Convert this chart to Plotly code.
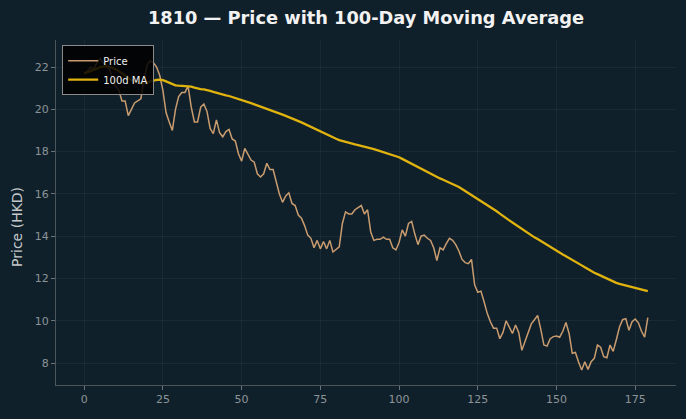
import plotly.graph_objects as go
import pandas as pd

days = list(range(180))
price = [
    21.7, 21.8, 22.0, 21.9, 22.2, 22.4, 22.2, 22.1, 21.9, 21.5,
    21.1, 20.9, 20.4, 20.4, 19.7, 20.0, 20.3, 20.4, 20.5, 21.4,
    22.1, 22.3, 22.2, 22.0, 21.6, 20.9, 19.85, 19.4, 19.0, 20.0,
    20.6, 20.8, 20.8, 21.1, 20.1, 19.4, 19.4, 20.1, 20.25, 19.9,
    19.1, 18.85, 19.5, 18.9, 18.7, 18.95, 19.05, 18.6, 18.5, 17.9,
    17.55, 18.15, 17.9, 17.6, 17.5, 16.95, 16.8, 16.95, 17.45, 17.15,
    17.15, 16.5, 16.0, 15.6, 15.9, 16.05, 15.55, 15.45, 15.0, 14.85,
    14.5, 14.05, 13.9, 13.45, 13.8, 13.4, 13.75, 13.4, 13.8, 13.25,
    13.4, 13.5, 14.6, 15.15, 15.05, 15.05, 15.25, 15.35, 15.45, 15.05,
    15.25, 14.2, 13.8, 13.85, 13.85, 13.95, 13.85, 13.85, 13.45, 13.35,
    13.7, 14.3, 14.0, 14.6, 14.7, 14.1, 13.6, 14.0, 14.05, 13.9,
    13.8, 13.45, 12.85, 13.45, 13.35, 13.65, 13.9, 13.8, 13.6, 13.3,
    12.9, 12.75, 12.7, 12.9, 11.7, 11.35, 11.4, 10.9, 10.35, 9.95,
    9.65, 9.65, 9.15, 9.45, 10.0, 9.7, 9.4, 9.8, 9.45, 8.6,
    9.0, 9.5, 9.85, 10.05, 10.25, 9.6, 8.85, 8.8, 9.15, 9.25,
    9.28, 9.22, 9.5, 9.92, 9.4, 8.46, 8.5, 8.05, 7.67, 8.06,
    7.7, 8.06, 8.22, 8.85, 8.75, 8.3, 8.25, 8.85, 8.55, 9.1,
    9.7, 10.05, 10.1, 9.55, 9.95, 10.08, 9.9, 9.5, 9.22, 10.15,
]
ma_window = 100
ma100 = pd.Series(price).rolling(ma_window, min_periods=1).mean().tolist()

x_ticks = [0, 25, 50, 75, 100, 125, 150, 175]
y_ticks = [8, 10, 12, 14, 16, 18, 20, 22]

BG = "#10202a"
FONT = "DejaVu Sans"

fig = go.Figure()
fig.add_trace(go.Scatter(x=days, y=price, mode="lines", name="Price",
                         line=dict(color="#c99c70", width=1.5)))
fig.add_trace(go.Scatter(x=days, y=ma100, mode="lines", name="100d MA",
                         line=dict(color="#e0b30f", width=2.3)))

axis_common = dict(
    showgrid=True, gridcolor="rgba(255,255,255,0.045)", gridwidth=1,
    zeroline=False, showline=True, linecolor="#4a555c", linewidth=1,
    ticks="outside", ticklen=4, tickcolor="#6a7378",
    tickfont=dict(family=FONT, size=11, color="#8c9499"),
)

fig.update_layout(
    width=686, height=419,
    paper_bgcolor=BG, plot_bgcolor=BG,
    margin=dict(l=56, r=10, t=40, b=34),
    font=dict(family=FONT),
    title=dict(text="<b>1810 — Price with 100-Day Moving Average</b>",
               x=0.5, xref="paper", xanchor="center",
               y=0.957, yref="container", yanchor="middle",
               font=dict(family=FONT, size=17.8, color="#f2f2f2")),
    showlegend=True,
    legend=dict(x=0.01, y=0.985, xanchor="left", yanchor="top",
                bgcolor="rgba(0,0,0,0.85)", bordercolor="#8a8a8a", borderwidth=1,
                font=dict(family=FONT, size=10, color="#f0f0f0"),
                tracegroupgap=0, itemwidth=30),
    annotations=[dict(text="Price (HKD)", textangle=-90, xref="paper", yref="paper",
                      x=-0.063, y=0.458, xanchor="center", yanchor="middle",
                      showarrow=False,
                      font=dict(family=FONT, size=14, color="#c3c8cb"))],
)
fig.update_xaxes(range=[-8.95, 187.95], tickvals=x_ticks, **axis_common)
fig.update_yaxes(range=[6.96, 23.28], tickvals=y_ticks, **axis_common)

fig.write_html("out.html")
